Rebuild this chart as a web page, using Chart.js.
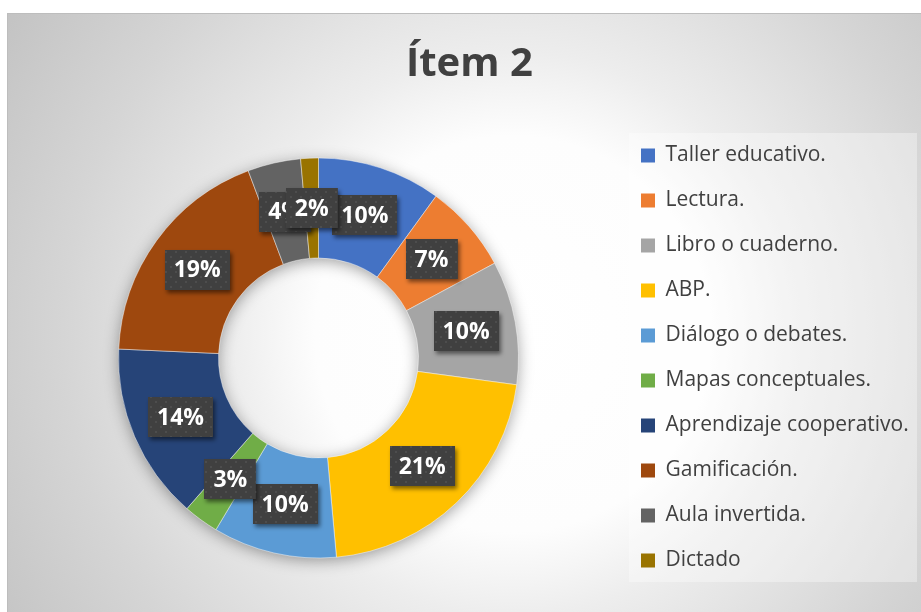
<!DOCTYPE html>
<html>
<head>
<meta charset="utf-8">
<title>Ítem 2</title>
<script src="https://cdn.jsdelivr.net/npm/chart.js@4"></script>
<style>
  html, body { margin: 0; padding: 0; background: #fff; overflow: hidden; width: 921px; height: 612px; }
  .frame { position: absolute; left: 7px; top: 13px; border-left: 1px solid #bdbdbd; border-top: 1px solid #bdbdbd; }
  canvas { display: block; }
</style>
</head>
<body>
<div class="frame"><canvas id="myChart" width="926" height="598"></canvas></div>
<script>
const categories = [
  'Taller educativo.', 'Lectura.', 'Libro o cuaderno.', 'ABP.', 'Diálogo o debates.',
  'Mapas conceptuales.', 'Aprendizaje cooperativo.', 'Gamificación.', 'Aula invertida.', 'Dictado'
];
const counts = [7, 5, 7, 15, 7, 2, 10, 13, 3, 1];
const pctLabels = ['10%', '7%', '10%', '21%', '10%', '3%', '14%', '19%', '4%', '2%'];
const colors = [
  '#4472C4', '#ED7D31', '#A5A5A5', '#FFC000', '#5B9BD5',
  '#70AD47', '#264478', '#9E480E', '#636363', '#997300'
];

const canvasWidth = 926;
const legendLeft = 609;

// dotted fill used by the data label boxes
const dots = document.createElement('canvas');
dots.width = 10;
dots.height = 10;
const dctx = dots.getContext('2d');
dctx.fillStyle = '#404040';
dctx.fillRect(0, 0, 10, 10);
dctx.fillStyle = '#4d4d4d';
dctx.fillRect(2, 2, 2, 2);
dctx.fillRect(7, 7, 2, 2);

const backdrop = {
  id: 'backdrop',
  beforeDraw(chart) {
    const ctx = chart.ctx;
    ctx.save();
    const g = ctx.createRadialGradient(505, 320, 0, 505, 320, 600);
    g.addColorStop(0, '#ffffff');
    g.addColorStop(0.33, '#fdfdfd');
    g.addColorStop(0.47, '#ededed');
    g.addColorStop(0.75, '#d5d5d5');
    g.addColorStop(1, '#c3c3c3');
    ctx.fillStyle = g;
    ctx.fillRect(0, 0, chart.width, chart.height);

    // light panel behind the legend
    const hb = chart.legend.legendHitBoxes;
    if (hb && hb.length) {
      const first = hb[0];
      const last = hb[hb.length - 1];
      ctx.fillStyle = 'rgba(255,255,255,0.35)';
      ctx.fillRect(first.left - 12, first.top - 12, 288, last.top + last.height - first.top + 23);
    }
    ctx.restore();
  }
};

const ringShadow = {
  id: 'ringShadow',
  beforeDatasetsDraw(chart) {
    const arc = chart.getDatasetMeta(0).data[0];
    if (!arc) return;
    const ctx = chart.ctx;
    ctx.save();
    ctx.shadowColor = 'rgba(0,0,0,0.4)';
    ctx.shadowBlur = 16;
    ctx.shadowOffsetY = 3;
    ctx.fillStyle = '#9a9a9a';
    ctx.beginPath();
    ctx.arc(arc.x, arc.y, arc.outerRadius - 1, 0, Math.PI * 2);
    ctx.arc(arc.x, arc.y, arc.innerRadius + 1, 0, Math.PI * 2, true);
    ctx.fill();
    ctx.restore();
  }
};

const pctBoxes = {
  id: 'pctBoxes',
  afterDatasetsDraw(chart) {
    const ctx = chart.ctx;
    const pattern = ctx.createPattern(dots, 'repeat');
    chart.getDatasetMeta(0).data.forEach((arc, i) => {
      const p = arc.tooltipPosition();
      const text = pctLabels[i];
      ctx.save();
      ctx.font = 'bold 23px "Open Sans"';
      const bw = ctx.measureText(text).width + 18;
      const bh = 40;
      ctx.shadowColor = 'rgba(0,0,0,0.5)';
      ctx.shadowBlur = 4;
      ctx.shadowOffsetX = 2;
      ctx.shadowOffsetY = 3;
      ctx.fillStyle = pattern;
      ctx.fillRect(Math.round(p.x - bw / 2), Math.round(p.y - bh / 2), bw, bh);
      ctx.shadowColor = 'transparent';
      ctx.fillStyle = '#ffffff';
      ctx.textAlign = 'center';
      ctx.textBaseline = 'middle';
      ctx.fillText(text, p.x, p.y + 1);
      ctx.restore();
    });
  }
};

const chart = new Chart(document.getElementById('myChart'), {
  type: 'doughnut',
  data: {
    labels: categories,
    datasets: [
      {
        data: counts,
        backgroundColor: colors,
        borderColor: 'rgba(255,255,255,0.45)',
        borderWidth: 1,
      },
    ],
  },
  options: {
    responsive: false,
    animation: false,
    radius: 200,
    cutout: '50%',
    layout: { padding: { left: 12, right: 15, top: 0, bottom: 0 } },
    plugins: {
      title: {
        display: true,
        text: 'Ítem 2',
        color: '#404040',
        font: { family: "'Open Sans'", size: 40, weight: 'bold', lineHeight: 1.2 },
        padding: { top: 26.5, bottom: 15.5 },
      },
      legend: {
        position: 'right',
        align: 'center',
        fullSize: false,
        labels: {
          boxWidth: 14,
          boxHeight: 14,
          padding: 24,
          color: '#404040',
          font: { family: "'Open Sans'", size: 21 },
          generateLabels(chart) {
            const items = Chart.overrides.doughnut.plugins.legend.labels.generateLabels(chart);
            items.forEach((it) => { it.lineWidth = 0; });
            return items;
          },
        },
      },
      tooltip: { enabled: false },
    },
  },
  plugins: [backdrop, ringShadow, pctBoxes],
});

// keep the legend's left edge where the reference has it
chart.options.layout.padding.right = canvasWidth - legendLeft - chart.legend.width;
chart.update();
</script>
</body>
</html>
